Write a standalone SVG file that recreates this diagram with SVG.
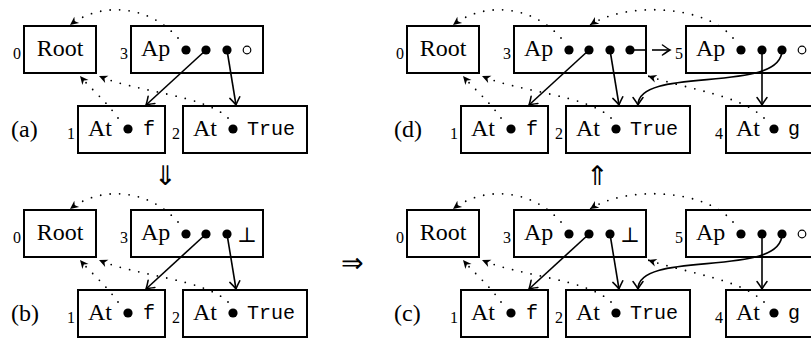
<svg xmlns="http://www.w3.org/2000/svg" width="811" height="341" viewBox="0 0 811 341">
<defs>
<style>
.box{fill:#fff;stroke:#000;stroke-width:2}
.t{font-family:"Liberation Serif","DejaVu Serif",serif;font-size:24px;fill:#000}
.m{font-family:"Liberation Mono",monospace;font-size:20px;fill:#000}
.lb{font-family:"Liberation Serif",serif;font-size:16px;fill:#000;text-anchor:end}
.bot{font-family:"DejaVu Serif","Liberation Serif",serif;font-size:21px;fill:#000;text-anchor:middle}
.dot{fill:#000}
.hole{fill:none;stroke:#000;stroke-width:1.2}
.sol{fill:none;stroke:#000;stroke-width:1.6;marker-end:url(#to)}
.dt{fill:none;stroke:#000;stroke-width:1.8;stroke-linecap:round;stroke-dasharray:0 9.5;marker-end:url(#st)}
.sym{font-family:"DejaVu Sans","Liberation Serif",sans-serif;font-size:27px;font-weight:200;fill:#000;text-anchor:middle}
</style>
<marker id="to" viewBox="-9 -6 11 12" refX="0" refY="0" markerWidth="11" markerHeight="12" orient="auto" markerUnits="userSpaceOnUse">
<path d="M-7.5,-5 Q-2,-1 0,0 Q-2,1 -7.5,5" fill="none" stroke="#000" stroke-width="1.5" stroke-linecap="round"/>
</marker>
<marker id="st" viewBox="-10 -5 11 10" refX="0" refY="0" markerWidth="11" markerHeight="10" orient="auto" markerUnits="userSpaceOnUse">
<path d="M0,0 L-8.5,-4 L-6,0 L-8.5,4 Z" fill="#000"/>
</marker>
</defs>

<!-- Panel (a) -->
<g id="a-root"><rect class="box" x="24" y="26" width="72" height="47"/><text class="t" x="60" y="56" text-anchor="middle">Root</text><text class="lb" x="21" y="59">0</text></g>
<g id="a-ap3"><rect class="box" x="131" y="26" width="132" height="47"/><text class="t" x="141" y="56">Ap</text><text class="lb" x="128" y="59">3</text>
<circle class="dot" cx="186" cy="50" r="4.6"/><circle class="dot" cx="206" cy="50" r="4.6"/><circle class="dot" cx="227" cy="50" r="4.6"/><circle class="hole" cx="247" cy="50" r="3.8"/></g>
<g id="a-at1"><rect class="box" x="78" y="106" width="87" height="47"/><text class="t" x="88" y="136">At</text><circle class="dot" cx="128" cy="129" r="4.6"/><text class="m" x="143" y="135">f</text><text class="lb" x="75" y="139">1</text></g>
<g id="a-at2"><rect class="box" x="183" y="106" width="124" height="47"/><text class="t" x="193" y="136">At</text><circle class="dot" cx="233" cy="129" r="4.6"/><text class="m" x="247" y="135">True</text><text class="lb" x="180" y="139">2</text></g>
<text class="t" x="11" y="137">(a)</text>

<!-- Panel (b) -->
<g id="b-root"><rect class="box" x="24" y="210" width="72" height="47"/><text class="t" x="60" y="240" text-anchor="middle">Root</text><text class="lb" x="21" y="243">0</text></g>
<g id="b-ap3"><rect class="box" x="131" y="210" width="132" height="47"/><text class="t" x="141" y="240">Ap</text><text class="lb" x="128" y="243">3</text>
<circle class="dot" cx="186" cy="234" r="4.6"/><circle class="dot" cx="206" cy="234" r="4.6"/><circle class="dot" cx="227" cy="234" r="4.6"/><text class="bot" x="247" y="242">⊥</text></g>
<g id="b-at1"><rect class="box" x="78" y="290" width="87" height="47"/><text class="t" x="88" y="320">At</text><circle class="dot" cx="128" cy="313" r="4.6"/><text class="m" x="143" y="319">f</text><text class="lb" x="75" y="323">1</text></g>
<g id="b-at2"><rect class="box" x="183" y="290" width="124" height="47"/><text class="t" x="193" y="320">At</text><circle class="dot" cx="233" cy="313" r="4.6"/><text class="m" x="247" y="319">True</text><text class="lb" x="180" y="323">2</text></g>
<text class="t" x="11" y="321">(b)</text>

<!-- Panel (d) -->
<g id="d-root"><rect class="box" x="407" y="26" width="72" height="47"/><text class="t" x="443" y="56" text-anchor="middle">Root</text><text class="lb" x="404" y="59">0</text></g>
<g id="d-ap3"><rect class="box" x="514" y="26" width="132" height="47"/><text class="t" x="524" y="56">Ap</text><text class="lb" x="511" y="59">3</text>
<circle class="dot" cx="569" cy="50" r="4.6"/><circle class="dot" cx="589" cy="50" r="4.6"/><circle class="dot" cx="610" cy="50" r="4.6"/><circle class="dot" cx="630" cy="50" r="4.6"/></g>
<g id="d-ap5"><rect class="box" x="686" y="26" width="132" height="47"/><text class="t" x="696" y="56">Ap</text><text class="lb" x="683" y="59">5</text>
<circle class="dot" cx="741" cy="50" r="4.6"/><circle class="dot" cx="762" cy="50" r="4.6"/><circle class="dot" cx="782" cy="50" r="4.6"/><circle class="hole" cx="802" cy="50" r="3.8"/></g>
<g id="d-at1"><rect class="box" x="461" y="106" width="87" height="47"/><text class="t" x="471" y="136">At</text><circle class="dot" cx="511" cy="129" r="4.6"/><text class="m" x="526" y="135">f</text><text class="lb" x="458" y="139">1</text></g>
<g id="d-at2"><rect class="box" x="566" y="106" width="124" height="47"/><text class="t" x="576" y="136">At</text><circle class="dot" cx="616" cy="129" r="4.6"/><text class="m" x="630" y="135">True</text><text class="lb" x="563" y="139">2</text></g>
<g id="d-at4"><rect class="box" x="726" y="106" width="87" height="47"/><text class="t" x="736" y="136">At</text><circle class="dot" cx="774" cy="129" r="4.6"/><text class="m" x="788" y="135">g</text><text class="lb" x="723" y="139">4</text></g>
<text class="t" x="394" y="137">(d)</text>

<!-- Panel (c) -->
<g id="c-root"><rect class="box" x="407" y="210" width="72" height="47"/><text class="t" x="443" y="240" text-anchor="middle">Root</text><text class="lb" x="404" y="243">0</text></g>
<g id="c-ap3"><rect class="box" x="514" y="210" width="132" height="47"/><text class="t" x="524" y="240">Ap</text><text class="lb" x="511" y="243">3</text>
<circle class="dot" cx="569" cy="234" r="4.6"/><circle class="dot" cx="589" cy="234" r="4.6"/><circle class="dot" cx="610" cy="234" r="4.6"/><text class="bot" x="630" y="242">⊥</text></g>
<g id="c-ap5"><rect class="box" x="686" y="210" width="132" height="47"/><text class="t" x="696" y="240">Ap</text><text class="lb" x="683" y="243">5</text>
<circle class="dot" cx="741" cy="234" r="4.6"/><circle class="dot" cx="762" cy="234" r="4.6"/><circle class="dot" cx="782" cy="234" r="4.6"/><circle class="hole" cx="802" cy="234" r="3.8"/></g>
<g id="c-at1"><rect class="box" x="461" y="290" width="87" height="47"/><text class="t" x="471" y="320">At</text><circle class="dot" cx="511" cy="313" r="4.6"/><text class="m" x="526" y="319">f</text><text class="lb" x="458" y="323">1</text></g>
<g id="c-at2"><rect class="box" x="566" y="290" width="124" height="47"/><text class="t" x="576" y="320">At</text><circle class="dot" cx="616" cy="313" r="4.6"/><text class="m" x="630" y="319">True</text><text class="lb" x="563" y="323">2</text></g>
<g id="c-at4"><rect class="box" x="726" y="290" width="87" height="47"/><text class="t" x="736" y="320">At</text><circle class="dot" cx="774" cy="313" r="4.6"/><text class="m" x="788" y="319">g</text><text class="lb" x="723" y="323">4</text></g>
<text class="t" x="394" y="321">(c)</text>

<!-- transitions -->
<text class="sym" x="165" y="185">⇓</text>
<text class="sym" x="597" y="185">⇑</text>
<text class="sym" x="352" y="272">⇒</text>

<g id="connectors">
<!-- (a) -->
<path class="dt" d="M178,38 C148,4 100,2 70,25"/>
<path class="dt" d="M118,118 C105,100 90,88 80,76"/>
<path class="dt" d="M228,118 C205,95 135,92 99,76"/>
<path class="sol" d="M206,50 L146,105"/>
<path class="sol" d="M227,50 L236,105"/>
<!-- (b) -->
<path class="dt" d="M178,222 C148,188 100,186 70,209"/>
<path class="dt" d="M118,302 C105,284 90,272 80,260"/>
<path class="dt" d="M228,302 C205,279 135,276 99,260"/>
<path class="sol" d="M206,234 L146,289"/>
<path class="sol" d="M227,234 L236,289"/>
<!-- (d) -->
<path class="dt" d="M561,38 C531,4 483,2 453,25"/>
<path class="dt" d="M733,38 C705,4 625,2 590,25"/>
<path class="dt" d="M501,118 C488,100 473,88 463,76"/>
<path class="dt" d="M611,118 C588,95 518,92 482,76"/>
<path class="dt" d="M764,118 C740,95 690,90 648,76"/>
<path class="sol" d="M589,50 L529,105"/>
<path class="sol" d="M610,50 L619,105"/>
<path d="M630,50 L646,50" fill="none" stroke="#000" stroke-width="1.6"/>
<path class="sol" d="M652,50 L670,50"/>
<path class="sol" d="M762,50 L762,105"/>
<path class="sol" d="M782,50 C782,95 638,65 638,105"/>
<!-- (c) -->
<path class="dt" d="M561,222 C531,188 483,186 453,209"/>
<path class="dt" d="M733,222 C705,188 625,186 590,209"/>
<path class="dt" d="M501,302 C488,284 473,272 463,260"/>
<path class="dt" d="M611,302 C588,279 518,276 482,260"/>
<path class="dt" d="M764,302 C740,279 690,274 648,260"/>
<path class="sol" d="M589,234 L529,289"/>
<path class="sol" d="M610,234 L619,289"/>
<path class="sol" d="M762,234 L762,289"/>
<path class="sol" d="M782,234 C782,279 638,249 638,289"/>
</g>
</svg>
